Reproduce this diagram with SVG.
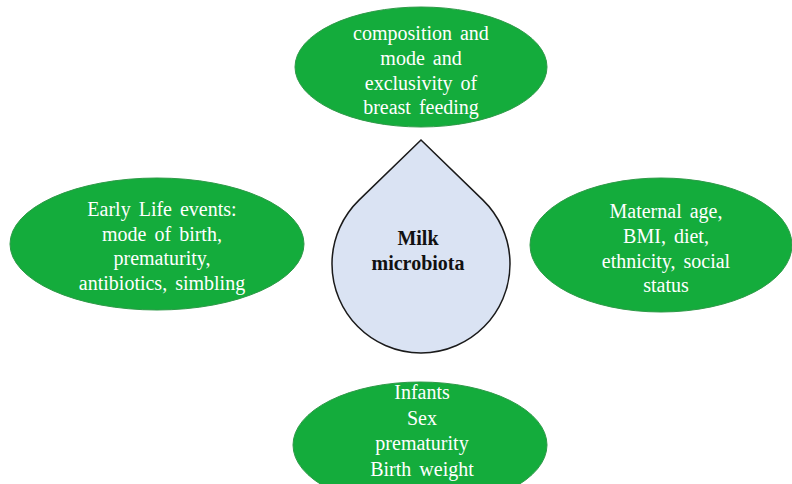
<svg xmlns="http://www.w3.org/2000/svg" width="792" height="484" viewBox="0 0 792 484">
<style>
.oval{fill:#14AC3C;stroke:#2E9A48;stroke-width:1}
.t{font-family:"Times New Roman",Times,"Liberation Serif","DejaVu Serif","Noto Serif",serif;font-size:20px;fill:#ffffff;text-anchor:middle;word-spacing:3px}
.c{font-family:"Times New Roman",Times,"Liberation Serif","DejaVu Serif","Noto Serif",serif;font-size:20px;font-weight:bold;fill:#111111;text-anchor:middle}
</style>
<rect width="792" height="484" fill="#ffffff"/>
<g id="connectors"></g>
<g id="top">
<ellipse class="oval" cx="421" cy="67" rx="126" ry="60"/>
<text class="t" x="421" y="40">composition  and</text>
<text class="t" x="421" y="65">mode and</text>
<text class="t" x="421" y="90">exclusivity  of</text>
<text class="t" x="421" y="114">breast feeding</text>
</g>
<g id="left">
<ellipse class="oval" cx="157" cy="244" rx="147" ry="66"/>
<text class="t" x="162" y="216">Early  Life  events:</text>
<text class="t" x="162" y="241">mode of birth,</text>
<text class="t" x="162" y="265">prematurity,</text>
<text class="t" x="162" y="290">antibiotics,  simbling</text>
</g>
<g id="right">
<ellipse class="oval" cx="661" cy="245" rx="131" ry="67"/>
<text class="t" x="666" y="218">Maternal  age,</text>
<text class="t" x="666" y="243">BMI, diet,</text>
<text class="t" x="666" y="268">ethnicity,  social</text>
<text class="t" x="666" y="292">status</text>
</g>
<g id="bottom">
<ellipse class="oval" cx="420" cy="445" rx="127" ry="63"/>
<text class="t" x="422" y="399">Infants</text>
<text class="t" x="422" y="425">Sex</text>
<text class="t" x="422" y="450">prematurity</text>
<text class="t" x="422" y="476">Birth  weight</text>
</g>
<g id="center">
<path d="M 421 140 L 483 200.1 A 89 89 0 1 1 359 200.1 Z" fill="#DAE3F3" stroke="#1a1a1a" stroke-width="1.5"/>
<text class="c" x="418" y="245">Milk</text>
<text class="c" x="418" y="270">microbiota</text>
</g>
</svg>
